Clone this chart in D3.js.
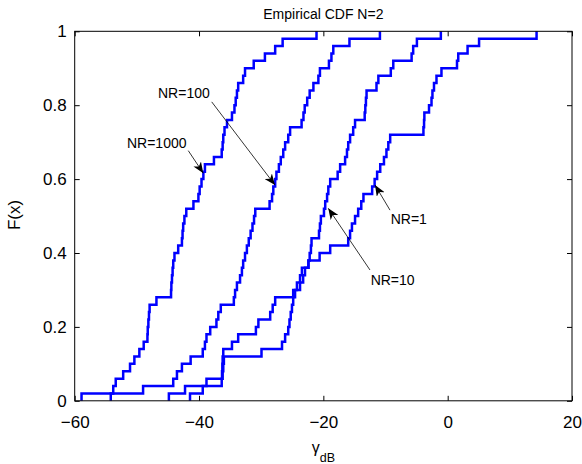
<!DOCTYPE html>
<html><head><meta charset="utf-8">
<script src="https://cdn.jsdelivr.net/npm/d3@7"></script>
<style>
body{margin:0;background:#fff}
text{font-family:"Liberation Sans",Arial,Helvetica,sans-serif;fill:#000}
</style>
</head><body>
<svg id="chart" width="582" height="464"></svg>
<script>
// ---------- data ----------
const titleText = "Empirical CDF N=2";
const xLabelMain = "\u03B3";
const xLabelSub = "dB";
const yLabel = "F(x)";
const xTicks = [-60, -40, -20, 0, 20];
const yTicks = [0, 0.2, 0.4, 0.6, 0.8, 1];

// sorted samples (dB) of each empirical CDF, 50 each
const nr1000 = [-58.9,-53.8,-53.4,-52.2,-51.1,-50.4,-49.6,-48.9,-48.3,-48.25,-48.15,-48.05,-47.95,-46.85,
  -44.5,-44.45,-44.35,-44.25,-44.15,-43.95,-43.35,-42.75,-42.65,-42.55,-42.35,-42.05,-40.9,-40.1,-39.9,-39.6,
  -39.3,-39.05,-37.6,-36.35,-36.2,-36.1,-35.9,-35.5,-34.7,-34.3,-34.1,-33.9,-33.7,-32.9,-32.6,-31.2,-29.4,
  -27.75,-26.55,-21.1];
const nr100 = [-54.2,-49.0,-44.15,-43.55,-42.75,-41.35,-39.4,-39.05,-38.8,-38.2,-37.2,-36.9,-36.5,-34.4,-34.2,
  -33.9,-33.4,-33.1,-32.9,-32.6,-32.3,-32.0,-31.7,-31.4,-31.15,-30.95,-28.65,-28.25,-28.05,-27.75,-27.55,-27.15,
  -26.85,-26.45,-26.15,-25.65,-25.35,-23.5,-23.2,-23.0,-22.6,-22.2,-21.6,-20.8,-20.55,-19.1,-18.7,-18.4,-15.8,-10.9];
const nr10 = [-41.45,-39.4,-38.8,-36.2,-36.1,-36.0,-29.95,-26.65,-26.15,-25.65,-25.45,-25.25,-25.05,-24.85,-24.55,
  -23.75,-23.25,-22.95,-22.4,-22.2,-22.0,-21.9,-20.7,-20.55,-20.4,-19.9,-19.7,-19.4,-19.2,-18.9,-17.7,-17.3,-16.5,
  -16.2,-16.0,-15.7,-15.2,-14.9,-13.35,-13.25,-13.15,-13.05,-11.45,-11.15,-9.15,-8.75,-5.8,-5.55,-4.95,-1.1];
const nr1 = [-44.85,-42.25,-36.35,-36.3,-36.25,-36.2,-36.1,-34.7,-33.7,-30.85,-30.45,-28.55,-28.15,-27.75,-24.85,
  -24.25,-23.75,-23.45,-22.4,-20.6,-18.9,-16.0,-15.7,-15.4,-14.9,-14.4,-13.9,-13.55,-12.15,-11.75,-11.35,-10.85,
  -10.25,-9.85,-9.55,-9.25,-3.9,-3.8,-3.75,-3.0,-2.6,-2.45,-2.2,-1.8,-1.0,1.5,1.7,3.2,5.05,14.3];

// annotations (data coordinates)
const annLabels = ["NR=100", "NR=1000", "NR=1", "NR=10"];
const annTextX  = [-46.6, -51.59, -9.17, -12.39];
const annTextY  = [0.8195, 0.684, 0.4785, 0.3134];
const annFromX  = [-37.96, -41.73, -9.28, -12.5];
const annFromY  = [0.809, 0.677, 0.516, 0.354];
const annToX    = [-27.78, -39.31, -11.69, -19.21];
const annToY    = [0.584, 0.616, 0.584, 0.521];

// ---------- drawing ----------
const W = 582, H = 464;
const margin = {left: 74.7, right: 10, top: 31.3, bottom: 63.2};
const svg = d3.select("#chart");
const x = d3.scaleLinear().domain([-60, 20]).range([margin.left, W - margin.right]);
const y = d3.scaleLinear().domain([0, 1]).range([H - margin.bottom, margin.top]);

const fmtX = d => d < 0 ? "\u2212" + Math.abs(d) : String(d);
const fmtY = d => String(d);

// axes with inward ticks
const gB = svg.append("g").attr("transform", `translate(0,${y(0)})`)
  .call(d3.axisBottom(x).tickValues(xTicks).tickSizeInner(-5).tickSizeOuter(0).tickPadding(15).tickFormat(fmtX));
const gT = svg.append("g").attr("transform", `translate(0,${y(1)})`)
  .call(d3.axisTop(x).tickValues(xTicks).tickSizeInner(-5).tickSizeOuter(0).tickFormat(""));
const gL = svg.append("g").attr("transform", `translate(${x(-60)},0)`)
  .call(d3.axisLeft(y).tickValues(yTicks).tickSizeInner(-5).tickSizeOuter(0).tickPadding(8).tickFormat(fmtY));
const gR = svg.append("g").attr("transform", `translate(${x(20)},0)`)
  .call(d3.axisRight(y).tickValues(yTicks).tickSizeInner(-5).tickSizeOuter(0).tickFormat(""));
[gB, gT, gL, gR].forEach(g => {
  g.select(".domain").remove();
  g.selectAll("line").attr("stroke", "#000").attr("stroke-width", 1);
  g.selectAll("text").style("font-size", "17px").attr("fill", "#000");
});

// curves
const line = d3.line().x(d => x(d[0])).y(d => y(d[1])).curve(d3.curveStepAfter);
function ecdf(samples) {
  const s = samples.slice().sort((a, b) => a - b);
  const n = s.length;
  const pts = [[s[0], 0]];
  s.forEach((v, i) => pts.push([v, (i + 1) / n]));
  return pts;
}
[nr1000, nr100, nr10, nr1].forEach(s => {
  svg.append("path").datum(ecdf(s)).attr("d", line)
    .attr("fill", "none").attr("stroke", "#0000ff").attr("stroke-width", 2.5)
    .attr("stroke-linejoin", "miter");
});

// box
svg.append("rect").attr("x", x(-60)).attr("y", y(1))
  .attr("width", x(20) - x(-60)).attr("height", y(0) - y(1))
  .attr("fill", "none").attr("stroke", "#000").attr("stroke-width", 1);

// arrow marker
svg.append("defs").append("marker")
  .attr("id", "ah").attr("viewBox", "0 0 11 9").attr("refX", 11).attr("refY", 4.5)
  .attr("markerWidth", 11).attr("markerHeight", 9).attr("markerUnits", "userSpaceOnUse")
  .attr("orient", "auto")
  .append("path").attr("d", "M0,0 L11,4.5 L0,9 L3,4.5 Z").attr("fill", "#000");

annLabels.forEach((lab, i) => {
  svg.append("line")
    .attr("x1", x(annFromX[i])).attr("y1", y(annFromY[i]))
    .attr("x2", x(annToX[i])).attr("y2", y(annToY[i]))
    .attr("stroke", "#000").attr("stroke-width", 0.8).attr("marker-end", "url(#ah)");
  svg.append("text").attr("x", x(annTextX[i])).attr("y", y(annTextY[i]))
    .style("font-size", "14px").text(lab);
});

// title & labels
svg.append("text").attr("x", (x(-60) + x(20)) / 2).attr("y", 19)
  .attr("text-anchor", "middle").style("font-size", "14px").text(titleText);
const xl = svg.append("text").attr("x", (x(-60) + x(20)) / 2).attr("y", 453)
  .attr("text-anchor", "middle").style("font-size", "16px");
xl.append("tspan").text(xLabelMain);
xl.append("tspan").attr("dy", 9).style("font-size", "12.5px").text(xLabelSub);
svg.append("text").attr("transform", `translate(20,215) rotate(-90)`)
  .attr("text-anchor", "middle").style("font-size", "17px").text(yLabel);
</script>
</body></html>
